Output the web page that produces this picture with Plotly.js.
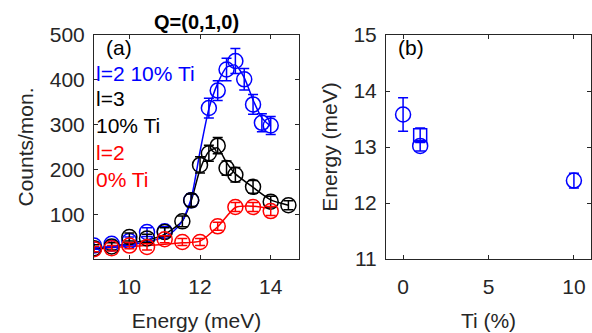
<!DOCTYPE html>
<html><head><meta charset="utf-8">
<script src="https://cdn.plot.ly/plotly-3.0.1.min.js"></script>
<style>html,body{margin:0;padding:0;background:#fff}#c{width:592px;height:333px}</style>
</head><body><div id="c"></div>
<script>
// Panel (a) data points
const blueE = [9.0, 9.5, 10.0, 10.5, 11.0, 11.75, 12.25, 12.5, 12.75, 13.0, 13.25, 13.5, 13.75, 14.0];
const blueC = [30, 34, 40, 60, 62, 131, 337, 376, 423, 442, 401, 345, 304, 298];
const blueErr = [8, 8, 9, 10, 10, 14, 22, 22, 25, 28, 24, 22, 20, 20];
const blackE = [9.0, 9.5, 10.0, 10.5, 11.0, 11.5, 11.75, 12.0, 12.25, 12.5, 12.75, 13.0, 13.5, 14.0, 14.5];
const blackC = [24, 28, 49, 46, 60, 84, 131, 210, 236, 253, 203, 188, 161, 128, 120];
const blackErr = [8, 8, 9, 9, 10, 12, 14, 18, 18, 18, 16, 16, 14, 12, 10];
const redE = [9.0, 9.5, 10.0, 10.5, 11.0, 11.5, 12.0, 12.5, 13.0, 13.5, 14.0];
const redC = [22, 24, 30, 27, 44, 38, 38, 73, 116, 116, 107];
const redErr = [6, 6, 7, 7, 8, 8, 8, 9, 10, 10, 10];
// fit curves
const blueFitE = [9.0, 9.5, 10.0, 10.5, 11.0, 11.25, 11.5, 11.75, 12.0, 12.25, 12.5, 12.75, 13.0, 13.25, 13.5, 13.75, 14.0];
const blueFitC = [25, 28, 32, 38, 50, 62, 85, 135, 240, 335, 392, 428, 433, 405, 355, 315, 296];
const blackFitE = [9.0, 9.5, 10.0, 10.5, 11.0, 11.5, 11.75, 12.0, 12.25, 12.5, 12.75, 13.0, 13.5, 14.0, 14.5];
const blackFitC = [22, 28, 35, 42, 55, 85, 130, 200, 240, 248, 215, 190, 160, 132, 120];
const redFitE = [9.0, 9.5, 10.0, 10.5, 11.0, 11.5, 12.0, 12.5, 13.0, 13.5, 14.0];
const redFitC = [22, 25, 28, 30, 33, 36, 40, 72, 115, 118, 112];
// Panel (b) data
const tiCirc = [0, 1, 10];
const enCirc = [13.58, 13.02, 12.40];
const enCircErr = [0.3, 0.09, 0.13];
const tiSq = [1];
const enSq = [13.21];
const enSqErr = [0.13];

const BLUE = '#0000ff', BLACK = '#000000', RED = '#ff0000';
const FONT = 'Liberation Sans, Arial, sans-serif';
const TXT = '#262626';
const FS = 21;

function pts(x, y, e, col, xa, ya, sym, size) {
  return {x, y, xaxis: xa, yaxis: ya, type: 'scatter', mode: 'markers', cliponaxis: true,
    marker: {symbol: sym || 'circle-open', size: size || 15, color: col, line: {width: 1.5, color: col}},
    error_y: {type: 'data', array: e, visible: true, color: col, thickness: 1.5, width: 5},
    showlegend: false, hoverinfo: 'skip'};
}
function line(x, y, col) {
  return {x, y, xaxis: 'x', yaxis: 'y', type: 'scatter', mode: 'lines', line: {color: col, width: 1.5, shape: 'spline', smoothing: 0.6}, showlegend: false, hoverinfo: 'skip'};
}

const traces = [
  line(redFitE, redFitC, RED),
  line(blackFitE, blackFitC, BLACK),
  line(blueFitE, blueFitC, BLUE),
  pts(blueE, blueC, blueErr, BLUE, 'x', 'y'),
  pts(blackE, blackC, blackErr, BLACK, 'x', 'y'),
  pts(redE, redC, redErr, RED, 'x', 'y'),
  pts(tiCirc, enCirc, enCircErr, BLUE, 'x2', 'y2', 'circle-open', 15),
  pts(tiSq, enSq, enSqErr, BLUE, 'x2', 'y2', 'square-open', 13)
];

const axBase = {showgrid: false, zeroline: false, showline: true, linecolor: TXT, linewidth: 1, mirror: 'ticks',
  ticks: 'inside', ticklen: 4, tickcolor: TXT, tickfont: {family: FONT, size: FS, color: TXT}};
const tfont = {family: FONT, size: 21, color: TXT};

const layout = {
  width: 592, height: 333, margin: {l: 0, r: 1, t: 35, b: 74},
  paper_bgcolor: '#fff', plot_bgcolor: '#fff',
  font: {family: FONT, color: TXT},
  xaxis: Object.assign({}, axBase, {domain: [94/591, 299/591], range: [9, 14.8], tickvals: [10, 12, 14], ticklabelstandoff: 9,
    title: {text: 'Energy (meV)', font: tfont, standoff: 16}}),
  yaxis: Object.assign({}, axBase, {domain: [0, 1], range: [0, 500], tickvals: [100, 200, 300, 400, 500], ticklabelstandoff: 4,
    title: {text: 'Counts/mon.', font: tfont, standoff: 10}}),
  xaxis2: Object.assign({}, axBase, {domain: [386/591, 1], range: [-1, 11], tickvals: [0, 5, 10], anchor: 'y2', ticklabelstandoff: 9,
    title: {text: 'Ti (%)', font: tfont, standoff: 16}}),
  yaxis2: Object.assign({}, axBase, {domain: [0, 1], range: [11, 15], tickvals: [11, 12, 13, 14, 15], anchor: 'x2', ticklabelstandoff: 4,
    title: {text: 'Energy (meV)', font: tfont, standoff: 10}}),
  annotations: [
    {text: '<b>Q=(0,1,0)</b>', xref: 'paper', yref: 'paper', x: 196.5/591, y: 1, yanchor: 'bottom', xanchor: 'center', yshift: 0, showarrow: false, font: {family: FONT, size: 20, color: '#000'}},
    {text: '(a)', xref: 'x domain', yref: 'y domain', x: 0.05, y: 0.945, xanchor: 'left', yanchor: 'middle', showarrow: false, font: {family: FONT, size: FS, color: '#000'}},
    {text: 'l=2 10% Ti', xref: 'x domain', yref: 'y domain', x: 0.0, y: 0.83, xanchor: 'left', yanchor: 'middle', showarrow: false, font: {family: FONT, size: FS, color: BLUE}},
    {text: 'l=3', xref: 'x domain', yref: 'y domain', x: 0.0, y: 0.715, xanchor: 'left', yanchor: 'middle', showarrow: false, font: {family: FONT, size: FS, color: BLACK}},
    {text: '10% Ti', xref: 'x domain', yref: 'y domain', x: 0.0, y: 0.595, xanchor: 'left', yanchor: 'middle', showarrow: false, font: {family: FONT, size: FS, color: BLACK}},
    {text: 'l=2', xref: 'x domain', yref: 'y domain', x: 0.0, y: 0.475, xanchor: 'left', yanchor: 'middle', showarrow: false, font: {family: FONT, size: FS, color: RED}},
    {text: '0% Ti', xref: 'x domain', yref: 'y domain', x: 0.0, y: 0.355, xanchor: 'left', yanchor: 'middle', showarrow: false, font: {family: FONT, size: FS, color: RED}},
    {text: '(b)', xref: 'x2 domain', yref: 'y2 domain', x: 0.05, y: 0.945, xanchor: 'left', yanchor: 'middle', showarrow: false, font: {family: FONT, size: FS, color: '#000'}}
  ]
};

Plotly.newPlot('c', traces, layout, {staticPlot: true, displayModeBar: false});
</script>
</body></html>
